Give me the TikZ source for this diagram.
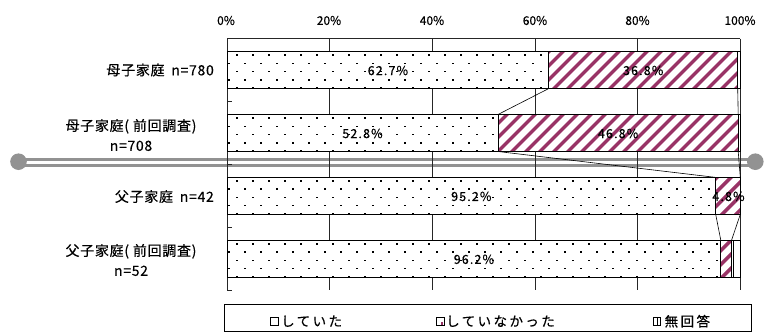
\documentclass[tikz,border=0pt]{standalone}
\usepackage{fontspec}
\setmainfont[FakeBold=0.4]{Noto Sans CJK JP}
\newfontfamily\jpcat[LetterSpace=5,FakeBold=0.4]{Noto Sans CJK JP}
\newfontfamily\jpleg[LetterSpace=18,FakeBold=0.4]{Noto Sans CJK JP}
\newfontfamily\jppct[LetterSpace=9,FakeBold=0.4]{Noto Sans CJK JP}
\definecolor{plum}{HTML}{993366}
\definecolor{bandgray}{HTML}{929292}

\newcommand\dotseg[4]{%
  \fill[white] (#1,#2) rectangle (#3,#4);
  \begin{scope}
    \clip (#1,#2) rectangle (#3,#4);
    \foreach \r in {0,...,4}{
      \pgfmathsetmacro\xo{227+2+8*mod(\r+1,2)}
      \pgfmathsetmacro\yy{#2+3.5+8.25*\r}
      \foreach \c in {0,...,32}{
        \fill (\xo+16*\c-0.75,\yy-0.75) rectangle ++(1.5,1.5);
      }
    }
  \end{scope}
  \draw[seg] (#1,#2) rectangle (#3,#4);
}
\newcommand\hatchseg[4]{%
  \fill[white] (#1,#2) rectangle (#3,#4);
  \begin{scope}
    \clip (#1,#2) rectangle (#3,#4);
    \foreach \k in {0,...,40}{
      \draw[plum, line width=3.5pt] (187+14*\k,#4+3) -- ++(46,-46);
    }
  \end{scope}
  \draw[seg] (#1,#2) rectangle (#3,#4);
}

\begin{document}
\begin{tikzpicture}[x=1pt,y=-1pt,
  axlab/.style={font=\fontsize{12}{14}\selectfont, inner sep=0},
  catlab/.style={font=\jpcat\fontsize{14}{20}\selectfont, inner sep=0, align=center},
  pctlab/.style={font=\jppct\fontsize{12.5}{14}\selectfont, inner sep=0},
  seg/.style={draw=black, line width=0.8pt},
  gridln/.style={draw=black!85, line width=0.8pt},
  serline/.style={draw=black, line width=0.6pt},
  bandln/.style={draw=bandgray, line width=3.2pt},
  legtxt/.style={font=\jpleg\fontsize{13.5}{16}\selectfont, inner sep=0, anchor=west},
  legkey/.style={draw=black, line width=0.6pt, fill=white, minimum width=7.5pt, minimum height=8.5pt, inner sep=0}]
\useasboundingbox (0,0) rectangle (769,332);

% break band
\draw[bandln] (18.5,159.3) -- (755,159.3);
\draw[bandln] (18.5,165.5) -- (755,165.5);
\fill[bandgray] (18.5,161.7) circle (8.3);
\fill[bandgray] (755.3,161.7) circle (8.3);

% grid
\foreach \gx in {329.7,432.3,535,637.7,740.3}{
  \draw[gridln] (\gx,38.6) -- (\gx,290.2);
}
\draw[gridln] (227,38.6) -- (740.3,38.6);
\draw[gridln] (227,38.6) -- (227,290.2);
\foreach \ty in {38.6,101.5,164.4,227.3,290.2}{
  \draw[gridln] (227,\ty) -- (232,\ty);
}

% axis labels
\node[axlab] (p0) at (226,20.5) {0\%};
\node[axlab] (p20) at (329,20.5) {20\%};
\node[axlab] (p40) at (432,20.5) {40\%};
\node[axlab] (p60) at (535,20.5) {60\%};
\node[axlab] (p80) at (637.5,20.5) {80\%};
\node[axlab] (p100) at (740,20.5) {100\%};

% bars
\dotseg{227}{51.5}{548.8}{88.5}
\hatchseg{548.8}{51.5}{737.7}{88.5}
\draw[seg, fill=white] (737.7,51.5) rectangle (740.3,88.5);

\dotseg{227}{114.5}{498}{151.5}
\hatchseg{498}{114.5}{738.2}{151.5}
\draw[seg, fill=white] (738.2,114.5) rectangle (740.3,151.5);

\dotseg{227}{177.4}{715.7}{214.4}
\hatchseg{715.7}{177.4}{740.3}{214.4}

\dotseg{227}{240.3}{720.8}{277.3}
\hatchseg{720.8}{240.3}{731.5}{277.3}
\draw[seg, fill=white] (731.5,240.3) rectangle (740.3,277.3);
\draw[seg] (733.5,240.3) -- (733.5,277.3);

% series lines
\coordinate (a1) at (548.8,88.5);  \coordinate (a2) at (498,114.5);
\coordinate (b1) at (737.7,88.5);  \coordinate (b2) at (738.2,114.5);
\coordinate (c1) at (498,151.5);   \coordinate (c2) at (715.7,177.4);
\coordinate (d1) at (738.2,151.5); \coordinate (d2) at (740.3,177.4);
\coordinate (e1) at (715.7,214.4); \coordinate (e2) at (720.8,240.3);
\coordinate (f1) at (740.3,214.4); \coordinate (f2) at (731.5,240.3);
\draw[serline] (a1) -- (a2);
\draw[serline] (b1) -- (b2);
\draw[serline] (c1) -- (c2);
\draw[serline] (d1) -- (d2);
\draw[serline] (e1) -- (e2);
\draw[serline] (f1) -- (f2);

% value labels
\node[pctlab] (v11) at (387.9,70.5) {62.7\%};
\node[pctlab] (v12) at (643.2,70.5) {36.8\%};
\node[pctlab] (v21) at (362.5,133.5) {52.8\%};
\node[pctlab] (v22) at (618.1,133.5) {46.8\%};
\node[pctlab] (v31) at (471.3,196.4) {95.2\%};
\node[pctlab] (v32) at (728.5,196.4) {4.8\%};
\node[pctlab] (v41) at (473.9,259.3) {96.2\%};

% category labels
\node[catlab, anchor=east] (c1) at (214,70) {母子家庭\hspace{3pt} n=780};
\node[catlab] (c2) at (131,135) {母子家庭( 前回調査)\\n=708};
\node[catlab, anchor=east] (c3) at (214,196.5) {父子家庭\hspace{3pt} n=42};
\node[catlab] (c4) at (131,260) {父子家庭( 前回調査)\\n=52};

% legend
\draw[line width=0.8pt] (224,304.3) rectangle (751.5,331.5);
\node[legkey] (k1) at (274.5,321.2) {};
\node[legtxt] (t1) at (281,321.2) {していた};
\node[legkey] (k2) at (440.3,321.2) {};
\fill[plum] (441.2,322.4) rectangle (443.4,324.8);
\node[legtxt] (t2) at (446,321.2) {していなかった};
\node[legkey] (k3) at (657,321.2) {};
\draw[line width=0.6pt] (657,316.95) -- (657,325.45);
\node[legtxt] (t3) at (664.5,321.2) {無回答};
\end{tikzpicture}
\end{document}
